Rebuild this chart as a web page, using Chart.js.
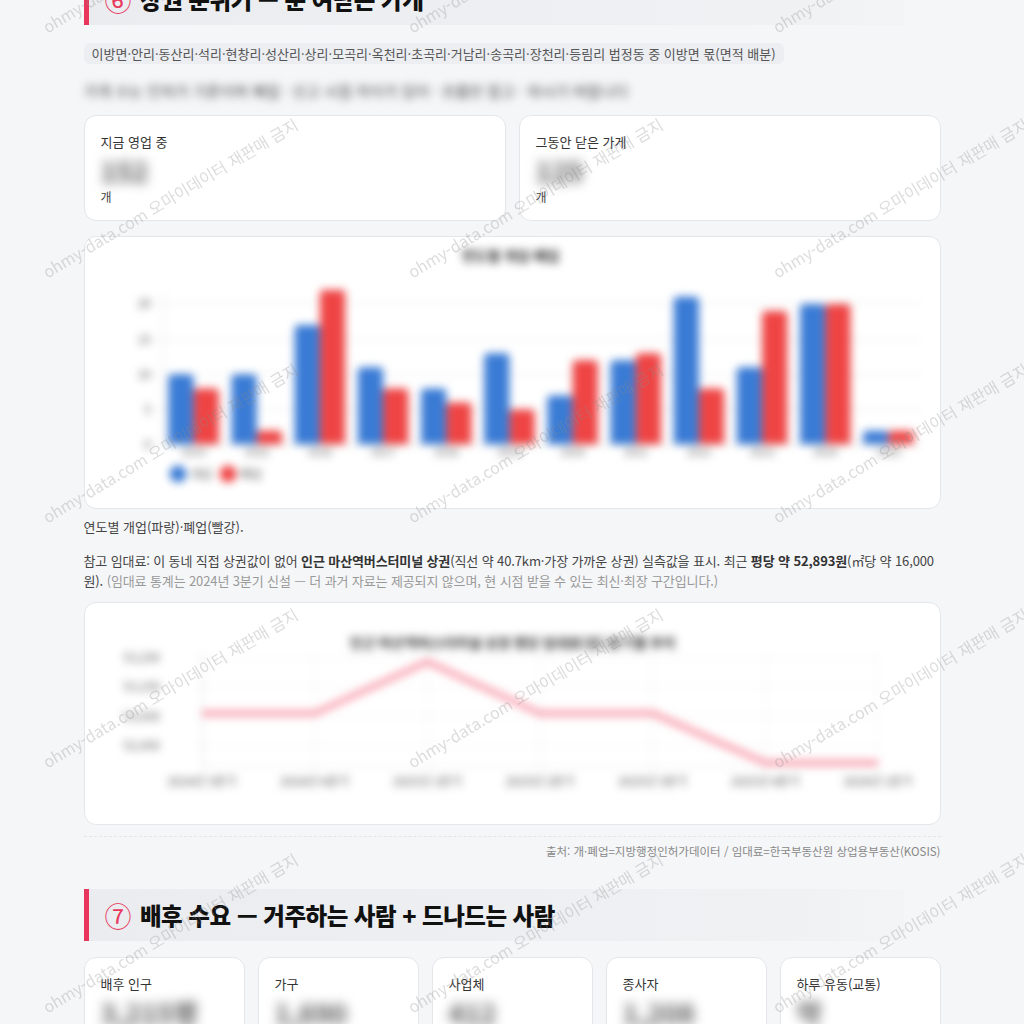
<!DOCTYPE html>
<html lang="ko">
<head>
<meta charset="utf-8">
<script src="https://cdn.jsdelivr.net/npm/chart.js@4.4.1/dist/chart.umd.min.js"></script>
<style>
  body { margin: 0; background: #f5f6f8; font-family: "Noto Sans CJK KR", "Noto Sans", sans-serif; color: #222; overflow: hidden; }
  .wrap { width: 857px; margin: 0 auto; position: relative; top: -27px; }
  .sec-h { height: 52px; width: 820px; box-sizing: border-box; border-left: 5px solid #e8365d;
    background: linear-gradient(90deg, #eaecef, #f0f1f3 85%, #f3f4f6);
    display: flex; align-items: center; padding-left: 16px; font-size: 23.5px; font-weight: 900; color: #111; letter-spacing: -0.5px; }
  .sec-h .num { color: #e8365d; font-weight: 400; margin-right: 9px; font-size: 27px; }
  .chip { display: inline-block; margin-top: 18px; background: #eceef2; border-radius: 6px; padding: 1px 8px; font-size: 13px; color: #555; line-height: 19px; }
  .blurline { margin-top: 16px; height: 22px; font-size: 15px; color: #444; filter: blur(4.5px); white-space: nowrap; }
  .cards { display: flex; gap: 13px; margin-top: 13px; }
  .card { background: #fff; border: 1px solid #e4e6ea; border-radius: 12px; box-sizing: border-box; }
  .stat { flex: 1; height: 106px; padding: 16px 16px; }
  .stat .lab { font-size: 13px; color: #333; line-height: 20px; }
  .stat .val { font-size: 27px; font-weight: 700; color: #555; filter: blur(6px); line-height: 30px; margin-top: 4px; }
  .stat .unit { font-size: 12px; color: #444; line-height: 18px; margin-top: 2px; }
  .chartcard { padding: 10px 16px; margin-top: 15px; }
  .cap { font-size: 13px; color: #444; margin-top: 8px; line-height: 20px; }
  .note { font-size: 13px; color: #444; margin-top: 14px; line-height: 20px; letter-spacing: -0.12px; }
  .note b { color: #333; }
  .note .dim { color: #999; }
  .rule { border-top: 1px dashed #e3e5e8; margin-top: 11px; }
  .src { text-align: right; font-size: 11.5px; color: #888; margin-top: 6px; line-height: 16px; }
  .sec7 { margin-top: 30px; }
  .cards5 { display: flex; gap: 13px; margin-top: 16px; }
  .cards5 .stat { height: 120px; }
  #wm { position: fixed; left: 0; top: 0; width: 1024px; height: 1024px; pointer-events: none; overflow: hidden; z-index: 10; }
  #wm span { position: absolute; font-size: 16px; color: rgba(140,140,140,0.3); white-space: nowrap; transform-origin: 0 100%; transform: rotate(-30.8deg); }
</style>
</head>
<body>
<div class="wrap">
  <div class="sec-h"><span class="num">⑥</span>상권 분위기 — 문 여닫은 가게</div>
  <div class="chip">이방면·안리·동산리·석리·현창리·성산리·상리·모곡리·옥천리·초곡리·거남리·송곡리·장천리·등림리 법정동 중 이방면 몫(면적 배분)</div>
  <div class="blurline">가게 수는 인허가 기준이며 폐업 · 신고 시점 차이가 있어 · 흐름만 참고 · 하시기 바랍니다</div>
  <div class="cards">
    <div class="card stat"><div class="lab">지금 영업 중</div><div class="val">152</div><div class="unit">개</div></div>
    <div class="card stat"><div class="lab">그동안 닫은 가게</div><div class="val">125</div><div class="unit">개</div></div>
  </div>
  <div class="card chartcard" style="height:273px"><div style="position:relative;height:251px;filter:blur(4px)"><canvas id="barChart"></canvas></div></div>
  <div class="cap">연도별 개업(파랑)·폐업(빨강).</div>
  <div class="note">참고 임대료: 이 동네 직접 상권값이 없어 <b>인근 마산역버스터미널 상권</b>(직선 약 40.7km·가장 가까운 상권) 실측값을 표시. 최근 <b>평당 약 52,893원</b>(㎡당 약 16,000원). <span class="dim">(임대료 통계는 2024년 3분기 신설 — 더 과거 자료는 제공되지 않으며, 현 시점 받을 수 있는 최신·최장 구간입니다.)</span></div>
  <div class="card chartcard" style="height:223px;margin-top:11px"><div style="position:relative;height:201px;filter:blur(4px)"><canvas id="rentChart"></canvas></div></div>
  <div class="rule"></div>
  <div class="src">출처: 개·폐업=지방행정인허가데이터 / 임대료=한국부동산원 상업용부동산(KOSIS)</div>
  <div class="sec-h sec7"><span class="num">⑦</span>배후 수요 — 거주하는 사람 + 드나드는 사람</div>
  <div class="cards5">
    <div class="card stat"><div class="lab">배후 인구</div><div class="val">3,215명</div></div>
    <div class="card stat"><div class="lab">가구</div><div class="val">1,690</div></div>
    <div class="card stat"><div class="lab">사업체</div><div class="val">412</div></div>
    <div class="card stat"><div class="lab">종사자</div><div class="val">1,208</div></div>
    <div class="card stat"><div class="lab">하루 유동(교통)</div><div class="val">약</div></div>
  </div>
</div>
<div id="wm"></div>
<script>
  // 연도별 개업/폐업
  const years = ['2014', '2015', '2016', '2017', '2018', '2019', '2020', '2021', '2022', '2023', '2024', '2025'];
  const openCounts = [10, 10, 17, 11, 8, 13, 7, 12, 21, 11, 20, 2];
  const closeCounts = [8, 2, 22, 8, 6, 5, 12, 13, 8, 19, 20, 2];
  const countTicks = [0, 5, 10, 15, 20];

  // 임대료 (평당, 원)
  const quarters = ['2024년 3분기', '2024년 4분기', '2025년 1분기', '2025년 2분기', '2025년 3분기', '2025년 4분기', '2026년 1분기'];
  const rentPerPyeong = [53060, 53060, 53234, 53060, 53060, 52893, 52893];
  const rentTicks = [52950, 53050, 53150, 53250];

  Chart.defaults.font.family = '"Noto Sans CJK KR", "Noto Sans", sans-serif';
  Chart.defaults.color = '#555';

  new Chart(document.getElementById('barChart'), {
    type: 'bar',
    data: {
      labels: years,
      datasets: [
        { label: '개업', data: openCounts, backgroundColor: '#3a7bd5', borderRadius: 4, categoryPercentage: 0.8, barPercentage: 1 },
        { label: '폐업', data: closeCounts, backgroundColor: '#ef4444', borderRadius: 4, categoryPercentage: 0.8, barPercentage: 1 }
      ]
    },
    options: {
      responsive: true,
      maintainAspectRatio: false,
      animation: false,
      layout: { padding: { left: 0, right: 4, bottom: 8 } },
      plugins: {
        title: { display: true, text: '연도별 개업·폐업', font: { size: 14, weight: 'bold' }, color: '#333', padding: { top: 0, bottom: 26 } },
        legend: { position: 'bottom', align: 'start', fullSize: false, labels: { usePointStyle: true, pointStyle: 'circle', boxWidth: 12, boxHeight: 12, padding: 10, color: '#555' } }
      },
      scales: {
        x: { grid: { display: false, drawTicks: false, tickLength: 0 }, ticks: { padding: 0, font: { size: 11 } } },
        y: {
          beginAtZero: true, bounds: 'data',
          afterBuildTicks: (axis) => { axis.ticks = countTicks.map(v => ({ value: v })); },
          afterFit: (axis) => { axis.width = 61; },
          ticks: { font: { size: 12 } }
        }
      }
    }
  });

  new Chart(document.getElementById('rentChart'), {
    type: 'line',
    data: {
      labels: quarters,
      datasets: [{
        label: '평당 임대료',
        data: rentPerPyeong,
        borderColor: 'rgba(244,63,94,0.5)',
        backgroundColor: 'rgba(244,63,94,0.5)',
        borderWidth: 6,
        pointRadius: 0,
        tension: 0
      }]
    },
    options: {
      responsive: true,
      maintainAspectRatio: false,
      animation: false,
      layout: { padding: { left: 0, right: 0, bottom: 25 } },
      plugins: {
        title: { display: true, text: '인근 마산역버스터미널 상권 평당 임대료(원) 분기별 추이', font: { size: 14, weight: 'bold' }, color: '#333', padding: { top: 0, bottom: 3 } },
        legend: { display: false }
      },
      scales: {
        x: { grid: { color: 'rgba(0,0,0,0.06)' }, ticks: { padding: 0 } },
        y: {
          min: 52880, max: 53260,
          afterBuildTicks: (axis) => { axis.ticks = rentTicks.map(v => ({ value: v })); },
          afterFit: (axis) => { axis.width = 101; },
          grid: { color: 'rgba(0,0,0,0.06)' },
          ticks: { padding: 34, callback: (v) => v.toLocaleString('ko-KR') }
        },
        yRight: {
          position: 'right',
          display: true,
          grid: { display: false },
          border: { display: false },
          ticks: { display: false },
          afterFit: (axis) => { axis.width = 46; }
        }
      }
    }
  });

  // 워터마크
  const wm = document.getElementById('wm');
  for (let r = 0; r < 5; r++) {
    for (let c = 0; c < 3; c++) {
      const s = document.createElement('span');
      s.textContent = 'ohmy-data.com 오마이데이터 재판매 금지';
      s.style.left = (50 + c * 365) + 'px';
      s.style.top = (36 + r * 245 - 22) + 'px';
      wm.appendChild(s);
    }
  }
</script>
</body>
</html>
